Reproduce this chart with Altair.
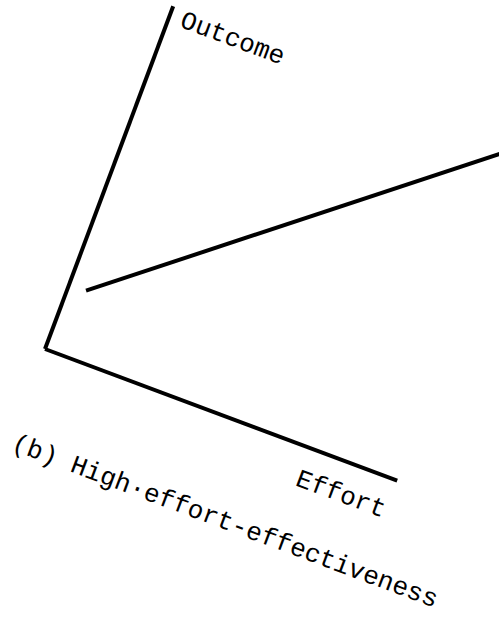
import math
import altair as alt
import pandas as pd

# Schematic: outcome as a function of effort, drawn in a tilted frame.
# Coordinates are in diagram units along the (effort, outcome) axes.
axis_effort = [0, 376]          # effort axis: start / end along effort
axis_outcome = [0, 366]         # outcome axis: start / end along outcome
curve_effort = [18, 360]        # high effort-effectiveness line
curve_outcome = [69, 344]

label_text = ["Outcome", "Effort", "(b) High·effort-effectiveness"]
label_effort = [67, 328, 229]
label_outcome = [357, -32, -98]

TILT = 20.5                     # frame rotation, degrees clockwise
ORIGIN_X, ORIGIN_Y = 45, 349    # where the two axes meet on the page
W, H = 499, 618

c = math.cos(math.radians(TILT))
s = math.sin(math.radians(TILT))

segments = pd.DataFrame({
    "seg": ["effort_axis"] * 2 + ["outcome_axis"] * 2 + ["curve"] * 2,
    "order": [0, 1, 0, 1, 0, 1],
    "e": [axis_effort[0], axis_effort[1], 0, 0, curve_effort[0], curve_effort[1]],
    "o": [0, 0, axis_outcome[0], axis_outcome[1], curve_outcome[0], curve_outcome[1]],
})
labels = pd.DataFrame({"text": label_text, "e": label_effort, "o": label_outcome})

to_page = [
    alt.CalculateTransform(calculate=f"{ORIGIN_X} + datum.e * {c} + datum.o * {s}", **{"as": "px"}),
    alt.CalculateTransform(calculate=f"{ORIGIN_Y} + datum.e * {s} - datum.o * {c}", **{"as": "py"}),
]

xs = alt.Scale(domain=[0, W], nice=False, zero=False)
ys = alt.Scale(domain=[0, H], nice=False, zero=False, reverse=True)

lines = (
    alt.Chart(segments)
    .transform_calculate(px=f"{ORIGIN_X} + datum.e * {c} + datum.o * {s}")
    .transform_calculate(py=f"{ORIGIN_Y} + datum.e * {s} - datum.o * {c}")
    .mark_line(color="black", strokeWidth=4, clip=True)
    .encode(
        x=alt.X("px:Q", scale=xs, axis=None),
        y=alt.Y("py:Q", scale=ys, axis=None),
        detail="seg:N",
        order="order:Q",
    )
)

texts = (
    alt.Chart(labels)
    .transform_calculate(px=f"{ORIGIN_X} + datum.e * {c} + datum.o * {s}")
    .transform_calculate(py=f"{ORIGIN_Y} + datum.e * {s} - datum.o * {c}")
    .mark_text(
        font="Liberation Mono",
        fontSize=26,
        angle=TILT,
        align="center",
        baseline="middle",
        color="black",
    )
    .encode(
        x=alt.X("px:Q", scale=xs, axis=None),
        y=alt.Y("py:Q", scale=ys, axis=None),
        text="text:N",
    )
)

chart = (
    alt.layer(lines, texts)
    .properties(width=W, height=H, padding=0, autosize=alt.AutoSizeParams(type="none"), background="white")
    .configure_view(stroke=None)
)

chart.save("out.html", embed_options={"renderer": "svg", "actions": False})
